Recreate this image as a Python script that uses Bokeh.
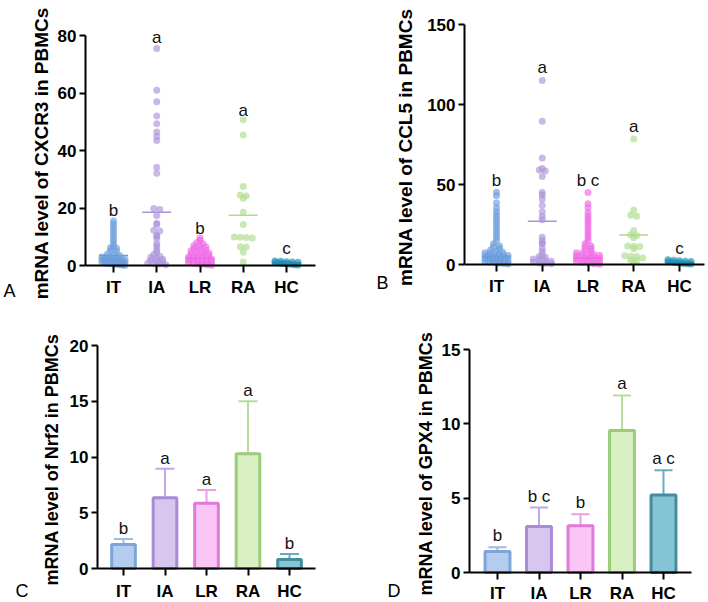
import math
from bokeh.plotting import figure
from bokeh.layouts import column, row
from bokeh.models import FixedTicker, Label, Range1d, Whisker, TeeHead, ColumnDataSource
from bokeh.embed import file_html
from bokeh.resources import INLINE
from bokeh.core.properties import value

FONT = "Liberation Sans"

# ---------------- data ----------------
groups = ["IT", "IA", "LR", "RA", "HC"]
xpos = [1, 2, 3, 4, 5]

bar_fill = ["#b4cdee", "#d7c6ee", "#fbc6f6", "#d9efc4", "#84c4d5"]
bar_line = ["#7ea5da", "#a98bd6", "#e07ad9", "#9bcc78", "#428d9e"]
err_color = ["#9dbde6", "#c2a8e6", "#ec9de6", "#b8dc9c", "#6aacbf"]
dot_color = ["#6a9cdc", "#ac92dc", "#f067e6", "#aedb8c", "#1b8fb6"]

# Panel A: CXCR3
cxcr3_IT = [15.5, 14.4, 13.3, 12.2, 11.1, 10.0, 8.9, 7.8, 6.7, 6.2, 6.0, 5.1, 4.9,
            4.0, 3.8, 3.5, 3.0, 2.9, 2.7, 2.6, 2.5, 2.3, 2.2, 2.1, 2.0, 1.9, 1.8,
            1.6, 1.5, 1.4, 1.3, 1.2, 1.1, 1.0, 0.9, 0.8, 0.7, 0.6, 0.5, 0.4, 0.3,
            0.2, 0.1]
cxcr3_IA = [75.5, 61, 57, 52, 49.3, 46.4, 44.9, 43.5, 34.2, 32.1, 19.8, 19.5, 17.4,
            14.7, 14.3, 12.3, 12.0, 10.5, 10.2, 9.3, 7.5, 6.8, 5.5, 4.8, 3.8, 3.2,
            2.9, 2.6, 2.2, 1.8, 1.5, 1.2, 0.9, 0.7, 0.5, 0.3]
cxcr3_LR = [9.6, 8.8, 8.0, 7.6, 7.0, 6.7, 6.4, 6.0, 5.7, 5.4, 5.1, 4.8, 4.5, 4.3,
            4.0, 3.7, 3.5, 3.3, 3.0, 2.9, 2.7, 2.5, 2.3, 2.2, 2.0, 1.8, 1.6, 1.4,
            1.2, 1.1, 1.0, 0.8, 0.6, 0.5, 0.3, 0.1]
cxcr3_RA = [50.7, 45.4, 27.5, 24.5, 24.2, 23.4, 18.5, 14.3, 9.9, 9.8, 9.7, 9.6,
            6.5, 6.4, 4.6, 1.2]
cxcr3_HC = [1.6, 1.5, 1.3, 1.2, 1.1, 1.0, 0.9, 0.8, 0.7, 0.6, 0.5, 0.4, 0.3, 0.2]
cxcr3_means = [3.5, 18.5, 2.5, 17.5, 0.8]
cxcr3_letters = ["b", "a", "b", "a", "c"]
cxcr3_letter_y = [19.1, 79.4, 12.8, 53.9, 5.8]

# Panel B: CCL5
ccl5_IT = [45.2, 43.0, 38.5, 35.5, 33.0, 31.0, 29.0, 27.0, 25.0, 23.0, 21.0, 19.0,
           17.0, 15.0, 13.0, 11.5, 11.0, 10.0, 9.0, 8.5, 7.8, 7.3, 7.0, 6.7, 6.4,
           6.0, 5.7, 5.5, 5.2, 4.9, 4.6, 4.3, 4.0, 3.8, 3.6, 3.3, 3.0, 2.7, 2.4,
           2.1, 1.9, 1.8, 1.5, 1.2, 0.9, 0.6, 0.3]
ccl5_IA = [115, 89.5, 66.5, 60, 59, 58.5, 55, 45, 43.5, 41, 37, 33, 30, 28, 17, 15,
           13.5, 13, 10, 8, 6, 5, 4.5, 3.5, 3, 2.5, 2, 1.5, 1, 0.8, 0.5]
ccl5_LR = [45.0, 38.0, 35.5, 32.5, 30.5, 28.5, 26.5, 24.5, 22.5, 20.5, 18.5, 16.5,
           14.5, 13.0, 11.5, 11.0, 10.0, 9.0, 8.2, 7.3, 7.0, 6.6, 6.2, 5.8, 5.5,
           5.1, 4.7, 4.3, 3.9, 3.6, 3.2, 2.8, 2.4, 2.0, 1.7, 1.3, 0.9, 0.5, 0.2]
ccl5_RA = [78.5, 34.0, 30.8, 30.2, 21.2, 18.6, 18.2, 16.7, 11.6, 11.4, 11.3, 9.8,
           5.4, 5.2, 5.0, 4.0, 2.6, 2.3, 1.2]
ccl5_HC = [3.0, 2.7, 2.4, 2.1, 1.9, 1.7, 1.5, 1.3, 1.1, 0.9, 0.7, 0.5, 0.3]
ccl5_means = [5.0, 27.0, 4.0, 18.5, 1.0]
ccl5_letters = ["b", "a", "b c", "a", "c"]
ccl5_letter_y = [52.5, 123.3, 52.5, 86.2, 9.8]

# Panel C: Nrf2 (mean, upper error)
nrf2_mean = [2.15, 6.35, 5.85, 10.3, 0.8]
nrf2_upper = [2.65, 8.95, 7.05, 15.0, 1.3]
nrf2_letters = ["b", "a", "a", "a", "b"]
nrf2_letter_y = [3.6, 9.9, 7.95, 16.0, 2.27]

# Panel D: GPX4
gpx4_mean = [1.42, 3.1, 3.15, 9.55, 5.22]
gpx4_upper = [1.7, 4.37, 3.92, 11.9, 6.88]
gpx4_letters = ["b", "b c", "b", "a", "a c"]
gpx4_letter_y = [2.49, 5.11, 4.71, 12.73, 7.69]


# ---------------- helpers ----------------
def make_panel(W, H, axpx, endpx, x1px, x5px, y0px, yv, yvpx, yticks, ylabel,
               lab_size, lab_standoff, xlab_standoff):
    sx = (x5px - x1px) / 4.0
    sy = (y0px - yvpx) / yv
    x_start = 1 + (0 - x1px) / sx
    x_end = 1 + (W - x1px) / sx
    y_end = y0px / sy
    y_start = (y0px - H) / sy
    x_axis = 1 + (axpx - x1px) / sx
    x_right = 1 + (endpx - x1px) / sx
    p = figure(width=W, height=H, x_range=Range1d(x_start, x_end),
               y_range=Range1d(y_start, y_end), output_backend="svg",
               toolbar_location=None, min_border_left=0, min_border_right=0,
               min_border_top=0, min_border_bottom=0)
    p.xgrid.visible = False
    p.ygrid.visible = False
    p.outline_line_color = None
    p.background_fill_color = "white"
    p.border_fill_color = "white"
    for ax in (p.xaxis[0], p.yaxis[0]):
        ax.axis_line_width = 2
        ax.axis_line_color = "black"
        ax.major_tick_line_width = 2
        ax.major_tick_line_color = "black"
        ax.major_tick_in = 0
        ax.minor_tick_line_color = None
        ax.major_label_text_font = FONT
        ax.major_label_text_font_style = "bold"
        ax.major_label_text_font_size = "17px"
        ax.major_label_text_color = "black"
    xa = p.xaxis[0]
    xa.ticker = FixedTicker(ticks=xpos)
    xa.major_label_overrides = {x: g for x, g in zip(xpos, groups)}
    xa.major_tick_out = 7
    xa.major_label_standoff = xlab_standoff
    xa.fixed_location = 0
    xa.bounds = (x_axis, x_right)
    ya = p.yaxis[0]
    ya.ticker = FixedTicker(ticks=yticks)
    ya.bounds = (0, yv)
    ya.fixed_location = x_axis
    ya.major_tick_out = 6
    ya.major_label_standoff = 3
    ya.axis_label = ylabel
    ya.axis_label_text_font = FONT
    ya.axis_label_text_font_style = "bold"
    ya.axis_label_text_font_size = lab_size
    ya.axis_label_text_color = "black"
    ya.axis_label_standoff = lab_standoff
    geo = dict(sx=sx, sy=sy, x_start=x_start, y0px=y0px)
    return p, geo


def swarm(vals, xc, geo, bin_px=3.0, step_px=6.0, maxw_px=23.0):
    bins = {}
    for i, v in enumerate(vals):
        b = int(math.floor(v * geo["sy"] / bin_px))
        bins.setdefault(b, []).append(i)
    xs = [xc] * len(vals)
    for b, idx in bins.items():
        n = len(idx)
        s = step_px if n == 1 else min(step_px, maxw_px / (n - 1))
        for k, i in enumerate(idx):
            off = (k - (n - 1) / 2.0) * s
            xs[i] = xc + off / geo["sx"]
    return xs


def add_letters(p, letters, ys):
    p.text(x=xpos, y=ys, text=letters, text_font=value(FONT), text_font_size="17px",
           text_align="center", text_baseline="alphabetic", text_color="#111111")


def panel_letter(p, geo, txt, lx, by):
    x = geo["x_start"] + lx / geo["sx"]
    y = (geo["y0px"] - by) / geo["sy"]
    p.add_layout(Label(x=x, y=y, text=txt, text_font=FONT, text_font_size="18px",
                       text_align="left", text_baseline="alphabetic", text_color="black"))


def add_scatter(p, geo, all_vals, means):
    half = 14.5 / geo["sx"]
    for i, vals in enumerate(all_vals):
        xs = swarm(vals, xpos[i], geo)
        p.scatter(xs, vals, size=7, fill_color=dot_color[i], fill_alpha=0.65,
                  line_color=None)
    for i in range(5):
        p.segment(x0=[xpos[i] - half], y0=[means[i]], x1=[xpos[i] + half],
                  y1=[means[i]], line_color=dot_color[i], line_width=1.5)


def add_bars(p, geo, means, uppers, width, cap_px):
    for i in range(5):
        src = ColumnDataSource(dict(base=[xpos[i]], lower=[means[i]], upper=[uppers[i]]))
        w = Whisker(source=src, base="base", lower="lower", upper="upper",
                    dimension="height", line_color=err_color[i], line_width=2,
                    upper_head=TeeHead(size=cap_px, line_color=err_color[i], line_width=2),
                    lower_head=None)
        p.add_layout(w)
    p.vbar(x=xpos, top=means, bottom=0, width=width, fill_color=bar_fill,
           line_color=bar_line, line_width=3)


# ---------------- panels ----------------
pA, gA = make_panel(354, 301, 85, 315, 113, 286, 265, 80, 35,
                    [0, 20, 40, 60, 80], "mRNA level  of CXCR3 in PBMCs", "19px", 3, 5)
add_scatter(pA, gA, [cxcr3_IT, cxcr3_IA, cxcr3_LR, cxcr3_RA, cxcr3_HC], cxcr3_means)
add_letters(pA, cxcr3_letters, cxcr3_letter_y)
panel_letter(pA, gA, "A", 3, 290)

pB, gB = make_panel(354, 301, 110, 350, 142, 325, 264, 150, 24,
                    [0, 50, 100, 150], "mRNA level  of CCL5 in PBMCs", "19px", 8, 5)
add_scatter(pB, gB, [ccl5_IT, ccl5_IA, ccl5_LR, ccl5_RA, ccl5_HC], ccl5_means)
add_letters(pB, ccl5_letters, ccl5_letter_y)
panel_letter(pB, gB, "B", 22, 282)

pC, gC = make_panel(354, 301, 97, 315, 123, 289, 267, 20, 44,
                    [0, 5, 10, 15, 20], "mRNA level  of Nrf2 in PBMCs", "18px", 5, 6)
add_bars(pC, gC, nrf2_mean, nrf2_upper, 0.57, 19)
add_letters(pC, nrf2_letters, nrf2_letter_y)
panel_letter(pC, gC, "C", 15, 289)

pD, gD = make_panel(354, 301, 115, 337, 143, 309, 271, 15, 48,
                    [0, 5, 10, 15], "mRNA level  of GPX4 in PBMCs", "18px", 3, 4)
add_bars(pD, gD, gpx4_mean, gpx4_upper, 0.6, 18)
add_letters(pD, gpx4_letters, gpx4_letter_y)
panel_letter(pD, gD, "D", 33, 289)

layout = column(row(pA, pB), row(pC, pD))
open("out.html", "w").write(file_html(layout, INLINE))
